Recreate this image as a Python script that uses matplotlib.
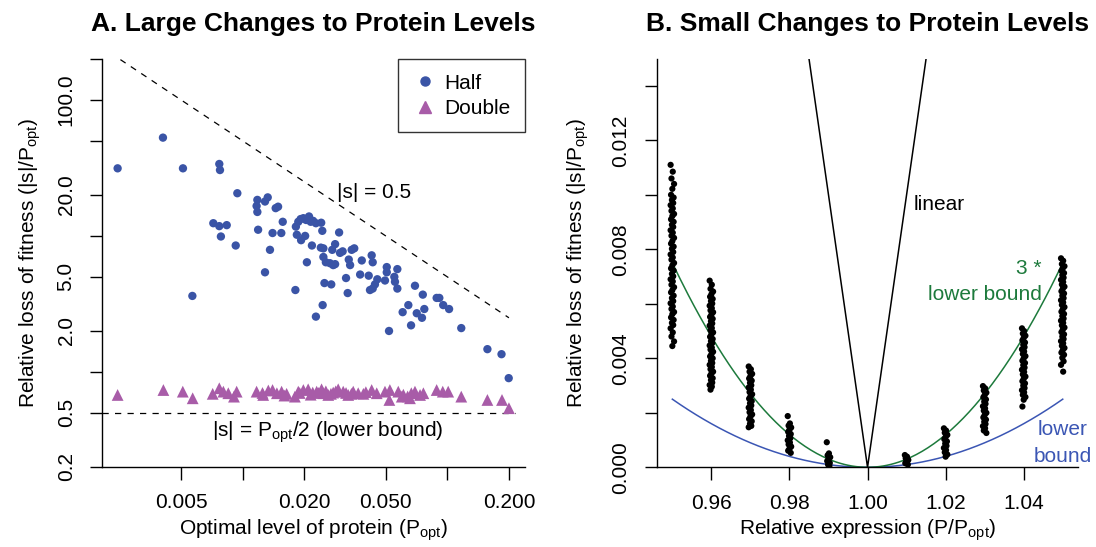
import numpy as np
import matplotlib
matplotlib.use('Agg')
import matplotlib.pyplot as plt
from matplotlib.lines import Line2D

plt.rcParams['font.family'] = ['Liberation Sans', 'DejaVu Sans']
plt.rcParams['mathtext.fontset'] = 'custom'
plt.rcParams['mathtext.rm'] = 'Liberation Sans'
plt.rcParams['mathtext.it'] = 'Liberation Sans:italic'

# ---- Panel A data: optimal protein level vs relative loss of fitness ----
half_popt = [0.00245, 0.00408, 0.00511, 0.00769, 0.00775, 0.00942, 0.00568, 0.00719, 0.00769, 0.00836,
             0.00783, 0.00925, 0.0118, 0.0117, 0.0118, 0.01286, 0.01326, 0.0145, 0.0149, 0.0119,
             0.0140, 0.0157, 0.01545, 0.0136, 0.01286, 0.0182, 0.0187, 0.0192, 0.0198, 0.0204,
             0.0211, 0.0215, 0.0221, 0.0228, 0.0242, 0.0245, 0.0184, 0.0193, 0.0202, 0.0218,
             0.0241, 0.0248, 0.0296, 0.0283, 0.0274, 0.0277, 0.0299, 0.0308, 0.0341, 0.0351,
             0.0248, 0.0255, 0.0267, 0.0283, 0.0206, 0.0330, 0.0335, 0.0382, 0.0427, 0.0432,
             0.0375, 0.0413, 0.0320, 0.0455, 0.0496, 0.0443, 0.0432, 0.0419, 0.0506, 0.0506,
             0.0570, 0.0551, 0.0555, 0.0570, 0.0251, 0.0271, 0.0326, 0.0181, 0.0246, 0.0228,
             0.0695, 0.0759, 0.0605, 0.0645, 0.0709, 0.0772, 0.0752, 0.0665, 0.0519, 0.0887,
             0.0914, 0.0955, 0.102, 0.117, 0.157, 0.184, 0.1995]
half_loss = [31.4, 52.8, 31.4, 33.8, 30.5, 20.6, 3.62, 12.4, 11.8, 12.0,
             9.9, 8.5, 18.4, 16.6, 15.0, 17.9, 19.2, 16.0, 16.4, 11.1,
             10.5, 12.7, 10.5, 7.9, 5.4, 11.7, 12.7, 13.3, 13.5, 13.1,
             13.9, 12.7, 12.9, 12.4, 12.5, 10.9, 10.2, 9.3, 10.0, 8.5,
             8.2, 8.1, 10.6, 8.7, 7.9, 6.1, 7.5, 7.7, 7.9, 8.1,
             7.0, 6.4, 6.3, 6.2, 6.4, 6.7, 6.1, 6.6, 7.2, 6.4,
             5.2, 5.1, 4.9, 4.8, 4.7, 4.4, 4.1, 4.0, 5.9, 5.4,
             5.7, 5.0, 4.6, 4.1, 4.5, 4.4, 3.8, 4.0, 3.1, 2.55,
             4.3, 3.7, 2.75, 3.1, 2.7, 2.9, 2.5, 2.2, 2.0, 3.5,
             3.5, 3.1, 2.9, 2.1, 1.47, 1.35, 0.90]

double_popt = [0.00245, 0.00410, 0.00510, 0.00570, 0.00714, 0.00769, 0.00805, 0.00851, 0.00935, 0.00907,
               0.0117, 0.0126, 0.01335, 0.0140, 0.0147, 0.0155, 0.0164, 0.0180, 0.0187, 0.0198,
               0.0209, 0.0220, 0.0230, 0.0243, 0.0248, 0.0262, 0.0277, 0.0293, 0.0310, 0.0328,
               0.0347, 0.0367, 0.0389, 0.0427, 0.0452, 0.0496, 0.0521, 0.0524, 0.0576, 0.0599,
               0.0657, 0.0667, 0.0695, 0.0736, 0.0764, 0.0887, 0.0950, 0.101, 0.117, 0.157,
               0.185, 0.200, 0.0190, 0.0215, 0.0235, 0.0255, 0.0270, 0.0285, 0.0320, 0.0340,
               0.0160, 0.0125, 0.0400, 0.0610, 0.0640]
double_loss = [0.677, 0.736, 0.716, 0.640, 0.690, 0.758, 0.716, 0.697, 0.716, 0.658,
               0.716, 0.677, 0.730, 0.736, 0.697, 0.716, 0.690, 0.658, 0.716, 0.736,
               0.745, 0.705, 0.716, 0.745, 0.697, 0.677, 0.705, 0.745, 0.716, 0.677,
               0.716, 0.697, 0.690, 0.736, 0.697, 0.716, 0.622, 0.736, 0.716, 0.658,
               0.640, 0.697, 0.716, 0.677, 0.697, 0.736, 0.716, 0.716, 0.658, 0.622,
               0.622, 0.541, 0.700, 0.680, 0.700, 0.720, 0.690, 0.720, 0.700, 0.690,
               0.670, 0.700, 0.710, 0.680, 0.660]

# ---- Panel B data: relative expression vs relative loss (units of 1e-4) ----
expr_levels = [0.95, 0.96, 0.97, 0.98, 0.99, 1.01, 1.02, 1.03, 1.04, 1.05]
loss_095 = [111, 108.5, 106, 104, 102.2, 100, 99, 98.1, 97, 96.2, 95, 94.1, 93, 92.2, 91, 90.1, 89, 88.2,
            87, 86.1, 85, 84.2, 83, 82.1, 81, 80.2, 79, 78.1, 77, 76.2, 75, 74.1, 73, 72.2, 71, 70.1,
            69, 68.2, 67, 66.1, 65, 64.2, 63, 62.1, 61, 60.2, 59, 58.1, 57, 56.2, 55, 54.1, 53, 52.2,
            51, 49.5, 48, 46.2, 44.5]
loss_096 = [68.5, 67, 65.5, 64.5, 63.5, 62.6, 61.8, 61, 60.1, 59.3, 58.4, 57.6, 56.9, 56, 55.2, 54.5,
            53.6, 52.8, 52, 51.1, 50.3, 49.5, 48.8, 47.9, 47.1, 46.3, 45.6, 44.7, 43.9, 43.2, 42.4,
            41.5, 40.7, 40, 39.1, 38.3, 37.6, 36.8, 36, 35.1, 34.4, 33.6, 32.7, 32, 31.1, 30.2, 29.6, 28.5]
loss_097 = [37, 36, 35.1, 34.3, 33.5, 32.6, 31.8, 31, 30.1, 29.3, 28.5, 27.6, 26.8, 26, 25.2, 24.3,
            23.5, 22.7, 21.9, 21, 20.2, 19.4, 18.6, 17.7, 16.9, 16, 15.2, 14.7]
loss_098 = [18.8, 16.1, 15.3, 14.6, 13.8, 13, 12.2, 11.5, 10.7, 9.9, 9.1, 8.4, 7.6, 6.8, 6.1, 5.3]
loss_099 = [9.2, 5.1, 4.4, 3.7, 3.0, 2.3, 1.6, 1.0, 0.5]
loss_101 = [4.5, 3.9, 3.3, 2.7, 2.1, 1.5, 1.0]
loss_102 = [14.3, 13.5, 12.7, 11.9, 11.1, 10.3, 9.5, 8.7, 7.9, 7.1, 6.3, 5.5, 4.7, 3.9]
loss_103 = [29.8, 29, 28.2, 27.4, 26.5, 25.7, 24.9, 24.1, 23.3, 22.4, 21.6, 20.8, 20, 19.2, 18.3,
            17.5, 16.7, 15.9, 15.1, 14.3, 13.5, 12.6]
loss_104 = [51, 50, 49.1, 48.3, 47.5, 46.6, 45.8, 45, 44.1, 43.3, 42.5, 41.6, 40.8, 40, 39.1, 38.3,
            37.5, 36.6, 35.8, 35, 34.1, 33.3, 32.5, 31.6, 30.8, 30, 29.1, 28.3, 27.5, 26.6, 25.8,
            24.8, 22.3]
loss_105 = [76.7, 75.8, 74.6, 73.8, 73, 72.1, 71.3, 70.5, 69.6, 68.8, 68, 67.1, 66.3, 65.5, 64.6,
            63.8, 63, 62.1, 61.3, 60.5, 59.6, 58.8, 58, 57.1, 56.3, 55.5, 54.6, 53.8, 53, 52.1, 51.3,
            50.5, 49.6, 48.8, 48, 47.1, 46.3, 45.5, 44.6, 43.8, 43, 42.1, 41.3, 40.2, 38.9, 37.6, 35.1]
jitter = [-4, 1, -2, 4, 0, -3, 3, -1, 2]  # horizontal spread, units of 1.1e-4

blue = '#3a54a6'
purple = '#a85ca8'
green = '#1d7a3c'
lineblue = '#3b56b4'

fig = plt.figure(figsize=(10.96, 5.47), dpi=100)
axA = fig.add_axes([0.0931, 0.1463, 0.3859, 0.7459])
axB = fig.add_axes([0.5992, 0.1457, 0.3847, 0.7472])

# ---------------- Panel A ----------------
axA.set_xscale('log')
axA.set_yscale('log')
axA.set_xlim(0.002056, 0.2396)
axA.set_ylim(0.2, 200)

xx = np.array([0.002, 0.2])
axA.plot(xx, 0.5 / xx, color='black', lw=0.9, ls=(0, (5, 5)))
axA.plot([0.002056, 0.215], [0.5, 0.5], color='black', lw=0.9, ls=(0, (5, 5)))

axA.scatter(half_popt, half_loss, s=36, color=blue, edgecolors='none', zorder=3)
axA.scatter(double_popt, double_loss, s=72, marker='^', color=purple, edgecolors='none', zorder=3)

axA.text(0.0289, 21, '|s| = 0.5', fontsize=15, ha='left', va='center')
axA.text(0.0261, 0.362, '|s| = P$_{\\mathrm{opt}}$/2 (lower bound)', fontsize=15, ha='center', va='center')

xt = [0.005, 0.01, 0.02, 0.05, 0.1, 0.2]
axA.set_xticks(xt)
axA.set_xticklabels(['0.005', '', '0.020', '0.050', '', '0.200'])
axA.xaxis.set_minor_locator(matplotlib.ticker.NullLocator())
yt = [0.2, 0.5, 1, 2, 5, 10, 20, 50, 100, 200]
axA.set_yticks(yt)
axA.set_yticklabels(['0.2', '0.5', '', '2.0', '5.0', '', '20.0', '', '100.0', ''])
axA.yaxis.set_minor_locator(matplotlib.ticker.NullLocator())

axA.set_xlabel('Optimal level of protein (P$_{\\mathrm{opt}}$)', fontsize=15)
axA.set_ylabel('Relative loss of fitness (|s|/P$_{\\mathrm{opt}}$)', fontsize=15)
axA.set_title('A. Large Changes to Protein Levels', fontsize=19, fontweight='bold', pad=20)

handles = [Line2D([], [], marker='o', ls='none', color=blue, markersize=6.5),
           Line2D([], [], marker='^', ls='none', color=purple, markersize=9)]
leg = axA.legend(handles, ['Half', 'Double'], loc='upper right', bbox_to_anchor=(1, 1),
                 borderaxespad=0, fontsize=15, frameon=True, fancybox=False,
                 handletextpad=0.3, handlelength=1.2, labelspacing=0.3, borderpad=0.7)
leg.get_frame().set_edgecolor('black')
leg.get_frame().set_linewidth(1.0)

# ---------------- Panel B ----------------
axB.set_xlim(0.946, 1.054)
axB.set_ylim(0, 0.015)

columns = [loss_095, loss_096, loss_097, loss_098, loss_099,
           loss_101, loss_102, loss_103, loss_104, loss_105]
for level, vals in zip(expr_levels, columns):
    xs = [level + jitter[i % len(jitter)] * 1.1e-4 for i in range(len(vals))]
    ys = np.array(vals) * 1e-4
    axB.scatter(xs, ys, s=20, color='black', edgecolors='none', zorder=3)

xg = np.linspace(0.95, 1.05, 201)
axB.plot(xg, (xg - 1) ** 2, color=lineblue, lw=1.1)
axB.plot(xg, 3 * (xg - 1) ** 2, color=green, lw=1.1)
xl = np.array([0.95, 1.0, 1.05])
axB.plot(xl, np.abs(xl - 1), color='black', lw=1.1)

axB.text(1.0117, 0.00966, 'linear', fontsize=15, ha='left', va='center')
axB.text(1.0446, 0.00731, '3 *', fontsize=15, ha='right', va='center', color=green)
axB.text(1.0446, 0.00635, 'lower bound', fontsize=15, ha='right', va='center', color=green)
axB.text(1.0500, 0.00137, 'lower', fontsize=15, ha='center', va='center', color=lineblue)
axB.text(1.0500, 0.00039, 'bound', fontsize=15, ha='center', va='center', color=lineblue)

axB.set_xticks([0.96, 0.98, 1.00, 1.02, 1.04])
axB.set_xticklabels(['0.96', '0.98', '1.00', '1.02', '1.04'])
axB.set_yticks([0, 0.002, 0.004, 0.006, 0.008, 0.010, 0.012, 0.014])
axB.set_yticklabels(['0.000', '', '0.004', '', '0.008', '', '0.012', ''])

axB.set_xlabel('Relative expression (P/P$_{\\mathrm{opt}}$)', fontsize=15)
axB.set_ylabel('Relative loss of fitness (|s|/P$_{\\mathrm{opt}}$)', fontsize=15)
axB.set_title('B. Small Changes to Protein Levels', fontsize=19, fontweight='bold', pad=20)

for ax, ylab_x in [(axA, -0.170), (axB, -0.187)]:
    for side in ['top', 'right']:
        ax.spines[side].set_visible(False)
    for side in ['left', 'bottom']:
        ax.spines[side].set_linewidth(1.0)
    ax.tick_params(axis='both', which='both', direction='out', length=9, width=1.0,
                   labelsize=15, pad=10)
    for lab in ax.get_yticklabels():
        lab.set_rotation(90)
        lab.set_va('center')
    ax.yaxis.set_label_coords(ylab_x, 0.5)
    ax.yaxis.label.set_va('center')
    ax.xaxis.set_label_coords(0.5, -0.155)
    ax.xaxis.label.set_va('center')

fig.savefig('out.png', dpi=100)
